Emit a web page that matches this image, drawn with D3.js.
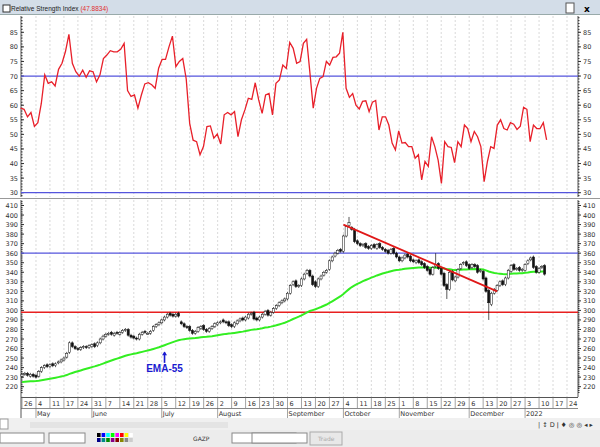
<!DOCTYPE html>
<html><head><meta charset="utf-8">
<script src="https://cdn.jsdelivr.net/npm/d3@7"></script>
<style>body{margin:0;background:#fff;}svg{display:block;font-family:"DejaVu Sans",sans-serif;}</style>
</head><body><svg id="c" width="600" height="447"></svg>
<script>
const closes=[233,234,232,233,231, 230,236,240,242,241, 243,242,244,246,248, 250,255,266,262,260,
259,261,262,261,263, 264,262,266,270,273, 275,276,275,276,276, 277,279,280,274,272,
271,270,275,277,277, 276,278,283,285,287, 290,293,296,295,294, 296,294,286,283,282,
279,276,278,282,283, 280,278,281,283,286, 287,288,288,287,284, 283,287,289,291,290,
293,296,297,291,290, 293,296,299,295,298, 302,305,308,310,312, 318,326,330,325,326,
333,338,342,336,327, 325,333,336,340,342, 352,356,360,363,362, 378,388,392,385,372,
370,368,369,366,365, 368,366,369,366,364, 362,360,364,360,356, 352,355,358,356,352,
351,352,350,348,345, 342,338,345,348,344, 338,326,322,340,332, 335,343,348,350,347,
344,348,346,340,342, 333,320,308,318,322, 326,330,327,334,342, 347,343,344,342,343,
348,352,355,345,340, 344,346,338];
const opens=[231,233,234,231,233, 232,231,236,240,243, 241,244,242,245,246, 248,251,256,266,262,
260,259,261,262,261, 262,265,263,266,270, 273,275,277,274,277, 275,277,279,280,274,
273,271,270,275,278, 276,276,279,283,285, 287,290,293,297,296, 294,297,288,286,283,
283,279,276,278,281, 284,280,278,281,283, 285,287,290,288,288, 285,283,286,289,292,
290,292,296,298,292, 290,293,296,300,295, 298,302,305,308,310, 312,318,327,331,325,
326,333,339,342,336, 330,325,333,337,340, 343,352,357,360,364, 362,378,389,387,385,
373,370,368,370,367, 365,369,365,370,366, 364,363,360,365,360, 356,352,355,359,357,
353,350,353,351,349, 346,343,338,346,349, 344,339,327,322,341, 331,335,344,349,351,
348,345,348,347,341, 341,334,321,306,318, 321,326,331,327,334, 341,348,343,345,342,
342,349,353,356,346, 340,345,347];
const spikeHigh={117:398,148:360};
const spikeLow={152:312,167:290};
// RSI: two segments (April–mid September, mid September–January)
const rsiA=[59,58.6,56,57.5,52.7,54,60.6,70.4,67.5,68,66.6,72.3,74.4,78.4,84.3,74.4,71.5,70,72,69.6,71.8,71.5,68,70.4,76,77.2,78.7,78.3,78.3,79.2,81.2,65,63,63.5,59,63.5,67.3,67.7,67,65.8,72.7,75.7,75.7,80,83.7,73.2,75,76,69,53.8,48,47.5,43,45.8,52.7,52.9,48.7,50.1,46.7,56.7,57.5,56.7,57.8,49.2,55,58.4,62.4,62,67.7,61.8,57.2,63.5,64,56.7,67.5,68.7,73.8,72.6,81.5,79.5,74.4,75];
const rsiB=[75,81.2,82.6,71,59,65.8,69.2,69.8,75,73.8,76.4,76.6,77.8,85,65.8,62.7,64,60,58.7,61.3,61.5,57.8,61,61.6,51.5,56,56,53.2,47,44.7,51.2,47,47.2,45.8,45.8,41.8,43,34.4,40.7,39,49.2,45.8,41.2,33.2,47.5,45.8,45.5,40.3,47.5,45.8,53.2,52,47.5,51,49.2,45.8,33.8,40.7,45.8,45.2,53.2,55,52,51.5,54,53.5,51.7,52.8,59.3,58.6,47.5,53.2,52,52,54,48.1];
const weekLabels=["26","4","11","17","24","31","7","14","21","28","5","12","19","26","2","9","16","23","30","6","13","20","27","4","11","18","25","1","8","15","22","29","6","13","20","27","3","10","17","24"];
const months=[["May",1],["June",5],["July",10],["August",14],["September",19],["October",23],["November",27],["December",32],["2022",36]];
const rsiTicks=[30,35,40,45,50,55,60,65,70,75,80,85];
const priceTicks=d3.range(220,411,10);
const trend=[[115,390],[170,320]];

const svg=d3.select("#c");
const L=21,R=578;
const x=d3.scaleLinear().domain([0,195]).range([22,567]);
const yR=d3.scaleLinear().domain([30,85]).range([192.7,32.3]);
const yP=d3.scaleLinear().domain([220,410]).range([386.7,205.5]);
svg.append("rect").attr("x",0).attr("y",0).attr("width",600).attr("height",15).attr("fill","#d3dde8");
svg.append("rect").attr("x",0).attr("y",14).attr("width",600).attr("height",1).attr("fill","#9aa");
svg.append("rect").attr("x",3).attr("y",5).attr("width",7).attr("height",7).attr("fill","#fff").attr("stroke","#333");
const ht=svg.append("text").attr("x",11).attr("y",11).attr("font-size",6.5).attr("font-family","Liberation Sans Narrow, Liberation Sans").attr("fill","#222");
ht.append("tspan").text("Relative Strength Index ");ht.append("tspan").attr("fill","#e03030").text("(47.8834)");
svg.append("rect").attr("x",566).attr("y",3).attr("width",8).attr("height",10).attr("fill","#fff").attr("stroke","#555");
svg.append("text").attr("x",584).attr("y",12).attr("font-size",9).attr("font-weight","bold").text("x");
function panel(y0,y1){
 svg.append("rect").attr("x",L).attr("y",y0).attr("width",R-L).attr("height",y1-y0).attr("fill","#fff");
 weekLabels.forEach((d,i)=>{const xx=x(i*5);if(xx>L&&xx<R)svg.append("line").attr("x1",xx).attr("x2",xx).attr("y1",y0).attr("y2",y1).attr("stroke","#c8c8c8").attr("stroke-dasharray","2,2").attr("stroke-width",0.7);});
 svg.append("line").attr("x1",L).attr("x2",L).attr("y1",y0).attr("y2",y1).attr("stroke","#555");
 svg.append("line").attr("x1",R).attr("x2",R).attr("y1",y0).attr("y2",y1).attr("stroke","#555");
}
panel(16,197);panel(200,397);
svg.append("line").attr("x1",0).attr("x2",600).attr("y1",198.5).attr("y2",198.5).attr("stroke","#999");
function yticks(scale,ticks,minor){
 ticks.forEach(t=>{const yy=scale(t);
  [[8,"end",L-3],[583,"start",R+5]].forEach(([a,anc,xx])=>svg.append("text").attr("x",xx).attr("y",yy+2.5).attr("text-anchor",anc).attr("font-size",6.5).attr("fill","#333").text(t));
  svg.append("line").attr("x1",L).attr("x2",L+3).attr("y1",yy).attr("y2",yy).attr("stroke","#333");
  svg.append("line").attr("x1",R).attr("x2",R+3).attr("y1",yy).attr("y2",yy).attr("stroke","#333");});
 minor.forEach(t=>{const yy=scale(t);
  svg.append("line").attr("x1",L).attr("x2",L+1.5).attr("y1",yy).attr("y2",yy).attr("stroke","#333");
  svg.append("line").attr("x1",R).attr("x2",R+1.5).attr("y1",yy).attr("y2",yy).attr("stroke","#333");});
}
yticks(yR,rsiTicks,d3.range(29,91,1));
yticks(yP,priceTicks,d3.range(214,416,2));
[70,30].forEach(v=>svg.append("line").attr("x1",L).attr("x2",R).attr("y1",yR(v)).attr("y2",yR(v)).attr("stroke","#5555dd").attr("stroke-width",1.2));
const segA=[-0.5,99.5], segB=[99.5,187.7];
const rsiPts=rsiA.map((v,i)=>[segA[0]+i*(segA[1]-segA[0])/(rsiA.length-1),v])
 .concat(rsiB.slice(1).map((v,i)=>[segB[0]+(i+1)*(segB[1]-segB[0])/(rsiB.length-1),v]));
svg.append("path").datum(rsiPts).attr("fill","none").attr("stroke","#e8202a").attr("stroke-width",1.3)
 .attr("d",d3.line().x(d=>x(d[0])).y(d=>yR(d[1])));
svg.append("line").attr("x1",L).attr("x2",R).attr("y1",yP(360)).attr("y2",yP(360)).attr("stroke","#5555dd").attr("stroke-width",1.2);
svg.append("line").attr("x1",L).attr("x2",R).attr("y1",yP(298)).attr("y2",yP(298)).attr("stroke","#e82020").attr("stroke-width",1.6);
let e=224.5;const ema=closes.map(c=>{e=e+(c-e)*2/56;return e;});
svg.append("path").datum(ema).attr("fill","none").attr("stroke","#33ee22").attr("stroke-width",2)
 .attr("d",d3.line().x((d,i)=>x(i)).y(d=>yP(d)));
closes.forEach((c,i)=>{const o=opens[i];
 const hi=spikeHigh[i]||Math.max(o,c)+1.5, lo=spikeLow[i]||Math.min(o,c)-1.5;
 const xx=x(i);
 svg.append("line").attr("x1",xx).attr("x2",xx).attr("y1",yP(hi)).attr("y2",yP(lo)).attr("stroke","#111").attr("stroke-width",0.7);
 const top=yP(Math.max(o,c)),h=Math.max(1,Math.abs(yP(o)-yP(c)));
 svg.append("rect").attr("x",xx-1.1).attr("y",top).attr("width",2.2).attr("height",h).attr("fill",c>=o?"#fff":"#111").attr("stroke","#111").attr("stroke-width",0.5);
});
svg.append("line").attr("x1",x(trend[0][0])).attr("y1",yP(trend[0][1])).attr("x2",x(trend[1][0])).attr("y2",yP(trend[1][1])).attr("stroke","#e01818").attr("stroke-width",1.8);
const ax=x(51);
svg.append("line").attr("x1",ax).attr("x2",ax).attr("y1",yP(245)).attr("y2",yP(256)).attr("stroke","#1a1ad0").attr("stroke-width",1.6);
svg.append("path").attr("d",`M${ax-2.5},${yP(253)}L${ax},${yP(257)}L${ax+2.5},${yP(253)}Z`).attr("fill","#1a1ad0");
svg.append("text").attr("x",ax).attr("y",yP(235)).attr("text-anchor","middle").attr("font-size",10).attr("font-weight","bold").attr("font-family","Liberation Sans Narrow, Liberation Sans").attr("fill","#1a1ad0").text("EMA-55");
svg.append("rect").attr("x",0).attr("y",397).attr("width",600).attr("height",21).attr("fill","#fff");
svg.append("line").attr("x1",L).attr("x2",R).attr("y1",397.5).attr("y2",397.5).attr("stroke","#555");
svg.append("line").attr("x1",L).attr("x2",R).attr("y1",408.5).attr("y2",408.5).attr("stroke","#888");
weekLabels.forEach((d,i)=>{const xx=x(i*5);
 svg.append("line").attr("x1",xx).attr("x2",xx).attr("y1",397).attr("y2",408).attr("stroke","#666").attr("stroke-width",0.6);
 svg.append("text").attr("x",xx+2).attr("y",406).attr("font-size",6.5).attr("fill","#333").text(d);});
months.forEach(([m,w])=>{const xx=x(w*5);
 svg.append("line").attr("x1",xx).attr("x2",xx).attr("y1",408).attr("y2",418).attr("stroke","#666").attr("stroke-width",0.6);
 svg.append("text").attr("x",xx+1).attr("y",416).attr("font-size",6.5).attr("fill","#333").text(m);});
svg.append("line").attr("x1",L).attr("x2",L).attr("y1",397).attr("y2",418).attr("stroke","#555");
svg.append("rect").attr("x",0).attr("y",418).attr("width",600).attr("height",12).attr("fill","#f0f0f0");
svg.append("rect").attr("x",0).attr("y",419).attr("width",8).attr("height",10).attr("fill","#fff").attr("stroke","#999");
svg.append("rect").attr("x",30).attr("y",422).attr("width",198).attr("height",6).attr("fill","#e4e4e4");
svg.append("text").attr("x",538).attr("y",427).attr("font-size",6.5).attr("fill","#333").text("| ↕ D ǀ ♦ ◎ ◎ ◂ ▸");
svg.append("rect").attr("x",0).attr("y",430).attr("width",600).attr("height",17).attr("fill","#ececec");
[[0,44],[49,36],[232,64],[252,55]].forEach(([a,w])=>{svg.append("rect").attr("x",a).attr("y",433).attr("width",w).attr("height",10).attr("fill","#fff").attr("stroke","#888");});
svg.append("rect").attr("x",310).attr("y",432).attr("width",32).attr("height",13).attr("fill","#e8e8e8").attr("stroke","#aaa");
svg.append("text").attr("x",318).attr("y",441).attr("font-size",6).attr("fill","#aaa").text("Trade");
svg.append("text").attr("x",193).attr("y",441).attr("font-size",6).attr("fill","#333").text("GAZP");
const cols=["#000","#00f","#0ff","#0f0","#f0f","#f00","#ff0","#fff","#008","#088","#080","#808","#800","#880","#888","#ccc"];
cols.forEach((c,i)=>svg.append("rect").attr("x",97+(i%8)*4.6).attr("y",433+Math.floor(i/8)*5).attr("width",3.6).attr("height",4).attr("fill",c));
</script></body></html>
